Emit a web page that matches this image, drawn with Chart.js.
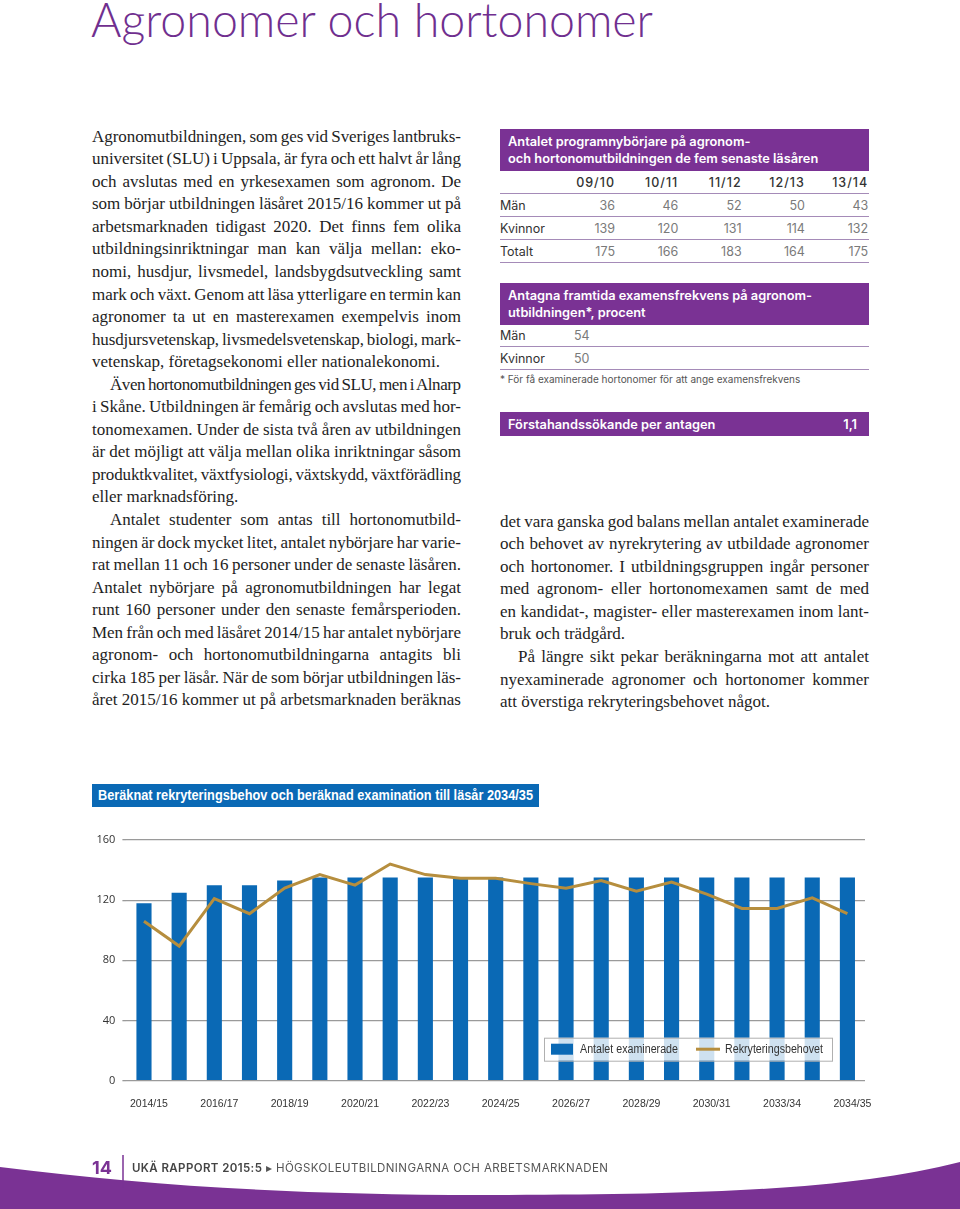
<!DOCTYPE html>
<html lang="sv">
<head>
<meta charset="UTF-8">
<title>Agronomer och hortonomer</title>
<script src="https://cdn.jsdelivr.net/npm/chart.js@4"></script>
<style>
  body { margin: 0; background: #fff; }
  .page { position: relative; width: 960px; height: 1209px; overflow: hidden; background: #fff; }
  h1 {
    position: absolute; left: 91px; top: -9px; margin: 0;
    font: 300 46.5px 'Lato', 'Open Sans', sans-serif; color: #702f8f; white-space: nowrap;
  }
  .col { position: absolute; width: 369px; font: 17px 'Liberation Serif', serif; color: #1e1e1e; line-height: 22.56px; }
  .col div { white-space: nowrap; height: 22.56px; }
  .col .in { padding-left: 18px; }
  .sans { font-family: 'Inter', 'Open Sans', sans-serif; }
  .box { position: absolute; left: 500px; width: 369px; background: #7a3294; color: #fff; font-weight: 600; font-size: 12.8px; }
  .box div { position: absolute; left: 8px; white-space: nowrap; }
  .row { position: absolute; left: 500px; width: 369px; height: 22px; font-size: 12.5px; color: #333; border-bottom: 1.5px solid #a58bb8; }
  .row span { position: absolute; top: 4px; white-space: nowrap; }
  .row .v { color: #7a7a7a; text-align: right; width: 50px; }
  .hd .v { color: #333; font-weight: 500; letter-spacing: 1px; }
  .ctitle {
    position: absolute; left: 92px; top: 784px; width: 447px; height: 23px; background: #0a69b5;
    color: #fff; font: bold 14px 'Liberation Sans', sans-serif; line-height: 23px; overflow: hidden;
  }
  .ctitle span { position: absolute; left: 6px; top: 0; white-space: nowrap; transform-origin: 0 50%; }
  #chartWrap { position: absolute; left: 90px; top: 800px; width: 790px; height: 310px; }
  .foot { position: absolute; top: 1160px; white-space: nowrap; }
</style>
</head>
<body>
<div class="page">
  <h1>Agronomer och hortonomer</h1>

  <div class="col" style="left:92px; top:125.7px;">
    <div class="j">Agronomutbildningen, som ges vid Sveriges lantbruks-</div>
    <div class="j">universitet (SLU) i Uppsala, är fyra och ett halvt år lång</div>
    <div class="j">och avslutas med en yrkesexamen som agronom. De</div>
    <div class="j">som börjar utbildningen läsåret 2015/16 kommer ut på</div>
    <div class="j">arbetsmarknaden tidigast 2020. Det finns fem olika</div>
    <div class="j">utbildningsinriktningar man kan välja mellan: eko-</div>
    <div class="j">nomi, husdjur, livsmedel, landsbygdsutveckling samt</div>
    <div class="j">mark och växt. Genom att läsa ytterligare en termin kan</div>
    <div class="j">agronomer ta ut en masterexamen exempelvis inom</div>
    <div class="j">husdjursvetenskap, livsmedelsvetenskap, biologi, mark-</div>
    <div>vetenskap, företagsekonomi eller nationalekonomi.</div>
    <div class="j in">Även hortonomutbildningen ges vid SLU, men i Alnarp</div>
    <div class="j">i Skåne. Utbildningen är femårig och avslutas med hor-</div>
    <div class="j">tonomexamen. Under de sista två åren av utbildningen</div>
    <div class="j">är det möjligt att välja mellan olika inriktningar såsom</div>
    <div class="j">produktkvalitet, växtfysiologi, växtskydd, växtförädling</div>
    <div>eller marknadsföring.</div>
    <div class="j in">Antalet studenter som antas till hortonomutbild-</div>
    <div class="j">ningen är dock mycket litet, antalet nybörjare har varie-</div>
    <div class="j">rat mellan 11 och 16 personer under de senaste läsåren.</div>
    <div class="j">Antalet nybörjare på agronomutbildningen har legat</div>
    <div class="j">runt 160 personer under den senaste femårsperioden.</div>
    <div class="j">Men från och med läsåret 2014/15 har antalet nybörjare</div>
    <div class="j">agronom- och hortonomutbildningarna antagits bli</div>
    <div class="j">cirka 185 per läsår. När de som börjar utbildningen läs-</div>
    <div class="j">året 2015/16 kommer ut på arbetsmarknaden beräknas</div>
  </div>

  <div class="col" style="left:500px; top:510.7px;">
    <div class="j">det vara ganska god balans mellan antalet examinerade</div>
    <div class="j">och behovet av nyrekrytering av utbildade agronomer</div>
    <div class="j">och hortonomer. I utbildningsgruppen ingår personer</div>
    <div class="j">med agronom- eller hortonomexamen samt de med</div>
    <div class="j">en kandidat-, magister- eller masterexamen inom lant-</div>
    <div>bruk och trädgård.</div>
    <div class="j in">På längre sikt pekar beräkningarna mot att antalet</div>
    <div class="j">nyexaminerade agronomer och hortonomer kommer</div>
    <div>att överstiga rekryteringsbehovet något.</div>
  </div>

  <!-- tabell 1 -->
  <div class="box sans" style="top:129px; height:42px;">
    <div style="top:5px;">Antalet programnybörjare på agronom-</div>
    <div style="top:22px;">och hortonomutbildningen de fem senaste läsåren</div>
  </div>
  <div id="tab1"></div>

  <!-- tabell 2 -->
  <div class="box sans" style="top:283px; height:42px;">
    <div style="top:5px;">Antagna framtida examensfrekvens på agronom-</div>
    <div style="top:22px;">utbildningen*, procent</div>
  </div>
  <div class="row sans" style="top:324px;"><span style="left:0">Män</span><span class="v" style="left:74px; text-align:left">54</span></div>
  <div class="row sans" style="top:347px;"><span style="left:0">Kvinnor</span><span class="v" style="left:74px; text-align:left">50</span></div>
  <div class="sans" style="position:absolute; left:500px; top:373px; font-size:10px; color:#555; white-space:nowrap;">* För få examinerade hortonomer för att ange examensfrekvens</div>

  <div class="box sans" style="top:412px; height:24px;">
    <div style="top:5px;">Förstahandssökande per antagen</div>
    <div style="top:5px; left:auto; right:12px;">1,1</div>
  </div>

  <div class="ctitle"><span id="ctitleText">Beräknat rekryteringsbehov och beräknad examination till läsår 2034/35</span></div>
  <div id="chartWrap"><canvas id="chart" width="790" height="310"></canvas></div>

  <!-- sidfot -->
  <svg style="position:absolute; left:0; top:0;" width="960" height="1209">
    <path d="M0,1167 C150,1186 300,1195 480,1195 C700,1195 850,1190 960,1162 L960,1209 L0,1209 Z" fill="#7a3294"/>
    <line x1="123" y1="1155" x2="123" y2="1188" stroke="#7a3294" stroke-width="1.5"/>
  </svg>
  <div class="foot sans" style="left:92px; top:1157px; font-size:18px; font-weight:700; color:#7a3294;">14</div>
  <div class="foot sans" style="left:132px; top:1161px; font-size:11.5px; letter-spacing:0.4px; color:#555;">
    <b style="color:#444; font-weight:600;">UKÄ RAPPORT 2015:5</b> ▸ HÖGSKOLEUTBILDNINGARNA OCH ARBETSMARKNADEN
  </div>
</div>

<script>
// tabelldata
const tabYears = ['09/10', '10/11', '11/12', '12/13', '13/14'];
const tabMan = [36, 46, 52, 50, 43];
const tabKvinnor = [139, 120, 131, 114, 132];
const tabTotalt = [175, 166, 183, 164, 175];

// diagramdata
const categories = ['2014/15', '2015/16', '2016/17', '2017/18', '2018/19', '2019/20', '2020/21',
  '2021/22', '2022/23', '2023/24', '2024/25', '2025/26', '2026/27', '2027/28', '2028/29',
  '2029/30', '2030/31', '2031/32', '2032/33', '2033/34', '2034/35'];
const tickLabels = ['2014/15', '', '2016/17', '', '2018/19', '', '2020/21', '', '2022/23', '',
  '2024/25', '', '2026/27', '', '2028/29', '', '2030/31', '', '2033/34', '', '2034/35'];
const examinerade = [118, 125, 130, 130, 133, 135, 135, 135, 135, 135, 135,
  135, 135, 135, 135, 135, 135, 135, 135, 135, 135];
const rekrytering = [106, 89.5, 121, 111, 128, 137, 130, 144, 137, 134.5, 134.5,
  131, 128, 133, 126, 132, 124, 114.5, 114.5, 121.5, 111];
const yTicks = [0, 40, 80, 120, 160];

const BLUE = '#0a69b5';
const GOLD = '#b68e3e';

// leta efter ett smalt typsnitt, annars vanlig Liberation Sans i mindre storlek
function pickCondensed() {
  const c = document.createElement('canvas').getContext('2d');
  const s = '2014/15 Antalet examinerade';
  c.font = "12px 'Liberation Sans'";
  const base = c.measureText(s).width;
  const opts = [
    { style: undefined, family: "'Liberation Sans Narrow'" },
    { style: 'condensed', family: "'DejaVu Sans'" },
    { style: undefined, family: "'DejaVu Sans Condensed'" }
  ];
  for (const o of opts) {
    c.font = (o.style ? o.style + ' ' : '') + '12px ' + o.family + ', monospace';
    if (c.measureText(s).width < base * 0.92) return { style: o.style, family: o.family, size: 12 };
  }
  return { style: undefined, family: "'Liberation Sans'", size: 10.5 };
}
const COND = pickCondensed();

// bygg tabell 1
(function () {
  const wrap = document.getElementById('tab1');
  const rows = [['', tabYears, 171, 'hd'], ['Män', tabMan, 194], ['Kvinnor', tabKvinnor, 217], ['Totalt', tabTotalt, 240]];
  rows.forEach(r => {
    const d = document.createElement('div');
    d.className = 'row sans ' + (r[3] || '');
    d.style.top = r[2] + 'px';
    let html = '<span style="left:0">' + r[0] + '</span>';
    r[1].forEach((v, i) => {
      html += '<span class="v" style="right:' + (369 - 115 - i * 63.3) + 'px">' + v + '</span>';
    });
    d.innerHTML = html;
    wrap.appendChild(d);
  });
})();

// justera raderna: ordavstånd först, teckenavstånd om orden skulle krocka
document.querySelectorAll('.col .j').forEach(el => {
  const txt = el.textContent;
  el.innerHTML = '<span>' + txt + '</span>';
  const sp = el.firstChild;
  const pad = parseFloat(getComputedStyle(el).paddingLeft) || 0;
  const target = el.parentNode.clientWidth - pad;
  const n = (txt.match(/ /g) || []).length;
  const w = sp.getBoundingClientRect().width;
  let ws = n > 0 ? (target - w) / n : 0;
  if (ws < -1) {
    const rest = target - w - n * -1;
    el.style.letterSpacing = (rest / (txt.length - 1)) + 'px';
    ws = -1;
  }
  el.style.wordSpacing = ws + 'px';
});

// diagramrubriken pressas ihop till rätt bredd
(function () {
  const t = document.getElementById('ctitleText');
  const w = t.getBoundingClientRect().width;
  t.style.transform = 'scaleX(' + (435 / w) + ')';
})();

// legend inne i diagrammet
const insideLegend = {
  id: 'insideLegend',
  afterDatasetsDraw(chart) {
    const c = chart.ctx, a = chart.chartArea;
    const w = 288, h = 23;
    const x = a.right - 33 - w, y = a.bottom - 20 - h;
    c.save();
    c.fillStyle = 'rgba(255,255,255,0.8)';
    c.fillRect(x, y, w, h);
    c.strokeStyle = '#b0b0b0';
    c.lineWidth = 1;
    c.strokeRect(x + 0.5, y + 0.5, w, h);
    c.fillStyle = BLUE;
    c.fillRect(x + 7, y + 6, 22, 11);
    c.strokeStyle = GOLD;
    c.lineWidth = 3;
    c.beginPath();
    c.moveTo(x + 152, y + h / 2);
    c.lineTo(x + 176, y + h / 2);
    c.stroke();
    c.fillStyle = '#333';
    c.font = "12.5px 'Liberation Sans'";
    c.textBaseline = 'middle';
    [[chart.data.datasets[0].label, x + 36], [chart.data.datasets[1].label, x + 181]].forEach(([txt, tx]) => {
      const tw = c.measureText(txt).width;
      c.save();
      c.translate(tx, y + h / 2 + 0.5);
      c.scale(98 / tw, 1);
      c.fillText(txt, 0, 0);
      c.restore();
    });
    c.restore();
  }
};

new Chart(document.getElementById('chart'), {
  type: 'bar',
  data: {
    labels: categories,
    datasets: [
      {
        label: 'Antalet examinerade',
        data: examinerade,
        backgroundColor: BLUE,
        barPercentage: 0.43,
        categoryPercentage: 1,
        order: 2
      },
      {
        type: 'line',
        label: 'Rekryteringsbehovet',
        data: rekrytering,
        borderColor: GOLD,
        borderWidth: 3,
        pointRadius: 0,
        tension: 0,
        order: 1
      }
    ]
  },
  options: {
    responsive: false,
    devicePixelRatio: 1,
    animation: false,
    layout: { padding: { top: 40, right: 15, left: 0, bottom: 0 } },
    plugins: { legend: { display: false }, tooltip: { enabled: false } },
    scales: {
      x: {
        grid: { display: false },
        border: { display: false },
        ticks: {
          autoSkip: false,
          maxRotation: 0,
          padding: 9,
          labelOffset: 5,
          color: '#333',
          font: { family: COND.family, style: COND.style, size: COND.size },
          callback: (v, i) => tickLabels[i]
        },
        afterFit: s => { s.height = 29.3; }
      },
      y: {
        min: yTicks[0],
        max: yTicks[yTicks.length - 1],
        border: { display: false },
        grid: { color: '#9a9a9a', lineWidth: 1.3, tickLength: 4, drawTicks: true },
        afterBuildTicks: s => { s.ticks = yTicks.map(v => ({ value: v })); },
        ticks: {
          padding: 7,
          color: '#333',
          font: { family: "'Open Sans', sans-serif", size: 11 }
        },
        afterFit: s => { s.width = 36.4; }
      }
    }
  },
  plugins: [insideLegend]
});
</script>
</body>
</html>
